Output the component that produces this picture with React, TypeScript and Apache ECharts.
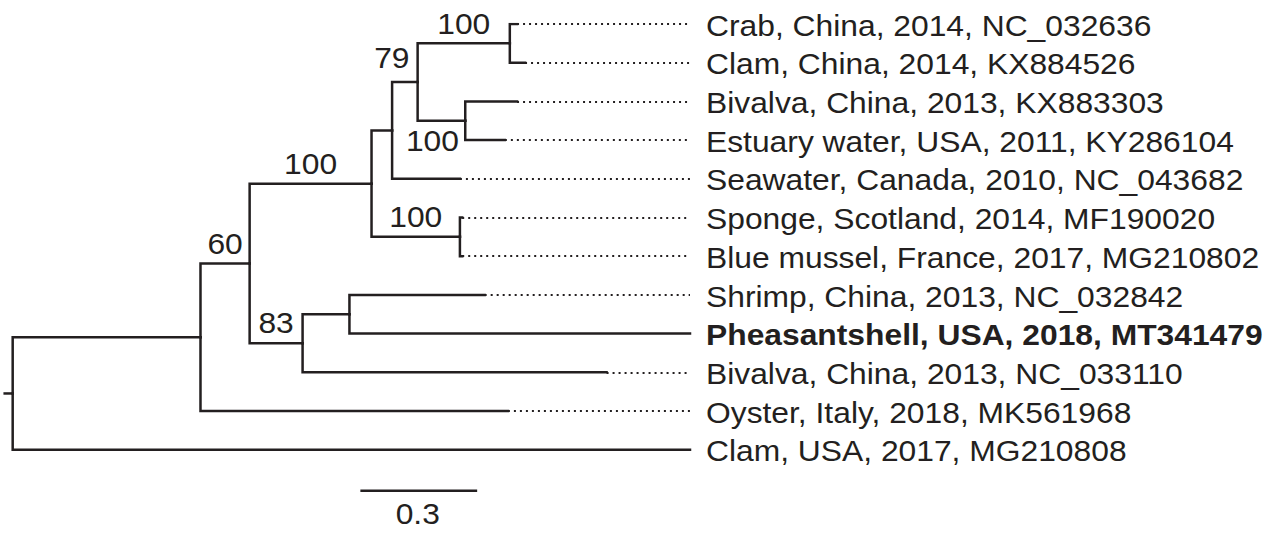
import React, { useEffect, useRef } from "react";
import * as echarts from "echarts";

// ---- Tree data (branch lengths in substitutions/site) ----
const nodeNames = ["root", "G", "N60", "B", "C", "D", "E", "F", "S", "H", "I"];
const nodeParents = ["", "root", "G", "N60", "B", "C", "D", "D", "B", "N60", "H"];
const nodeBranch = [0, 0.493, 0.129, 0.32, 0.054, 0.067, 0.242, 0.125, 0.232, 0.139, 0.123];
const nodeSupport: (number | null)[] = [null, null, 60, 100, null, 79, 100, 100, 100, 83, null];

const leafNames = [
  "Crab, China, 2014, NC_032636",
  "Clam, China, 2014, KX884526",
  "Bivalva, China, 2013, KX883303",
  "Estuary water, USA, 2011, KY286104",
  "Seawater, Canada, 2010, NC_043682",
  "Sponge, Scotland, 2014, MF190020",
  "Blue mussel, France, 2017, MG210802",
  "Shrimp, China, 2013, NC_032842",
  "Pheasantshell, USA, 2018, MT341479",
  "Bivalva, China, 2013, NC_033110",
  "Oyster, Italy, 2018, MK561968",
  "Clam, USA, 2017, MG210808",
];
const leafParents = ["E", "E", "F", "F", "C", "S", "S", "I", "I", "H", "G", "root"];
const leafBranch = [0.019, 0.04, 0.136, 0.104, 0.178, 0.006, 0.006, 0.355, 0.894, 0.798, 0.807, 1.778];
const highlightLeaf = "Pheasantshell, USA, 2018, MT341479";

const scaleBarValue = 0.3;
const scaleBarLabel = "0.3";

// ---- layout / style constants ----
const ROOT_STUB = 0.021;
const X_MIN = -0.0333;
const SCALE_BAR_X = 0.916;
const SCALE_BAR_Y = 12.06;
const INK = "#231f20";
const FONT = "'Liberation Sans', Arial, Helvetica, sans-serif";
const FONT_SIZE = 30;
const SX = 1.06;
const supportOffsets: Record<string, [number, number]> = { D: [-13, -24], F: [-9, 20] };

function buildTree() {
  const depth: Record<string, number> = {};
  nodeNames.forEach((n, i) => {
    depth[n] = (nodeParents[i] ? depth[nodeParents[i]] : 0) + nodeBranch[i];
  });
  const leafDepth = leafNames.map((_, i) => depth[leafParents[i]] + leafBranch[i]);
  const yCache: Record<string, number> = {};
  const yOf = (name: string): number => {
    if (yCache[name] !== undefined) return yCache[name];
    const ys: number[] = [];
    nodeNames.forEach((n, i) => { if (nodeParents[i] === name) ys.push(yOf(n)); });
    leafParents.forEach((p, i) => { if (p === name) ys.push(i); });
    const v = (Math.min(...ys) + Math.max(...ys)) / 2;
    yCache[name] = v;
    return v;
  };
  nodeNames.forEach((n) => yOf(n));
  return { depth, leafDepth, yCache };
}

export default function App() {
  const ref = useRef<HTMLDivElement>(null);
  useEffect(() => {
    if (!ref.current) return;
    const chart = echarts.init(ref.current, undefined, { renderer: "svg" });
    const { depth, leafDepth, yCache } = buildTree();
    const maxTip = Math.max(...leafDepth);

    const edges: any[] = [];
    nodeNames.forEach((n, i) => {
      const p = nodeParents[i];
      if (!p) return;
      edges.push({ coords: [[depth[p], yCache[p]], [depth[p], yCache[n]], [depth[n], yCache[n]]] });
    });
    leafNames.forEach((_, i) => {
      const p = leafParents[i];
      edges.push({ coords: [[depth[p], yCache[p]], [depth[p], i], [leafDepth[i], i]] });
    });
    edges.push({ coords: [[-ROOT_STUB, yCache["root"]], [0, yCache["root"]]] });
    edges.push({ coords: [[SCALE_BAR_X, SCALE_BAR_Y], [SCALE_BAR_X + scaleBarValue, SCALE_BAR_Y]] });

    const dots: any[] = [];
    leafNames.forEach((_, i) => {
      if (leafDepth[i] < maxTip - 1e-6) dots.push({ coords: [[leafDepth[i], i], [maxTip, i]] });
    });

    type Item = { x: number; y: number; text: string; dx: number; dy: number; align: string; bold?: boolean };
    const items: Item[] = [];
    leafNames.forEach((name, i) => {
      items.push({ x: maxTip, y: i, text: name, dx: 16, dy: 1.5, align: "left", bold: name === highlightLeaf });
    });
    nodeNames.forEach((n, i) => {
      const s = nodeSupport[i];
      if (s == null) return;
      const p = nodeParents[i];
      const off = supportOffsets[n] || [0, -20];
      items.push({ x: (depth[p] + depth[n]) / 2, y: yCache[n], text: String(s), dx: off[0], dy: off[1], align: "center" });
    });
    items.push({ x: SCALE_BAR_X + scaleBarValue / 2, y: SCALE_BAR_Y, text: scaleBarLabel, dx: -1, dy: 23, align: "center" });

    chart.setOption({
      animation: false,
      backgroundColor: "#ffffff",
      grid: { left: 0, top: 24, width: 690, height: 13 * 38.7 },
      xAxis: { type: "value", min: X_MIN, max: maxTip, show: false },
      yAxis: { type: "value", min: 0, max: 13, inverse: true, show: false },
      series: [
        {
          type: "lines",
          coordinateSystem: "cartesian2d",
          polyline: true,
          silent: true,
          lineStyle: { color: INK, width: 2.5, opacity: 1, cap: "square", join: "miter" },
          data: edges,
        },
        {
          type: "lines",
          coordinateSystem: "cartesian2d",
          silent: true,
          lineStyle: { color: INK, width: 2.2, opacity: 1, type: [2, 4] },
          data: dots,
        },
        {
          type: "custom",
          silent: true,
          data: items.map((it) => [it.x, it.y]),
          encode: { x: 0, y: 1 },
          renderItem: (params: any, api: any) => {
            const it = items[params.dataIndex];
            const pt = api.coord([it.x, it.y]);
            return {
              type: "text",
              x: pt[0] + it.dx,
              y: pt[1] + it.dy,
              scaleX: SX,
              style: {
                text: it.text,
                fontSize: FONT_SIZE,
                fontFamily: FONT,
                fontWeight: it.bold ? "bold" : "normal",
                fill: INK,
                align: it.align,
                verticalAlign: "middle",
              },
            };
          },
        },
      ],
    });
    return () => chart.dispose();
  }, []);
  return (
    <div
      ref={ref}
      style={{ position: "fixed", left: 0, top: 0, width: 1276, height: 533, background: "#fff" }}
    />
  );
}
